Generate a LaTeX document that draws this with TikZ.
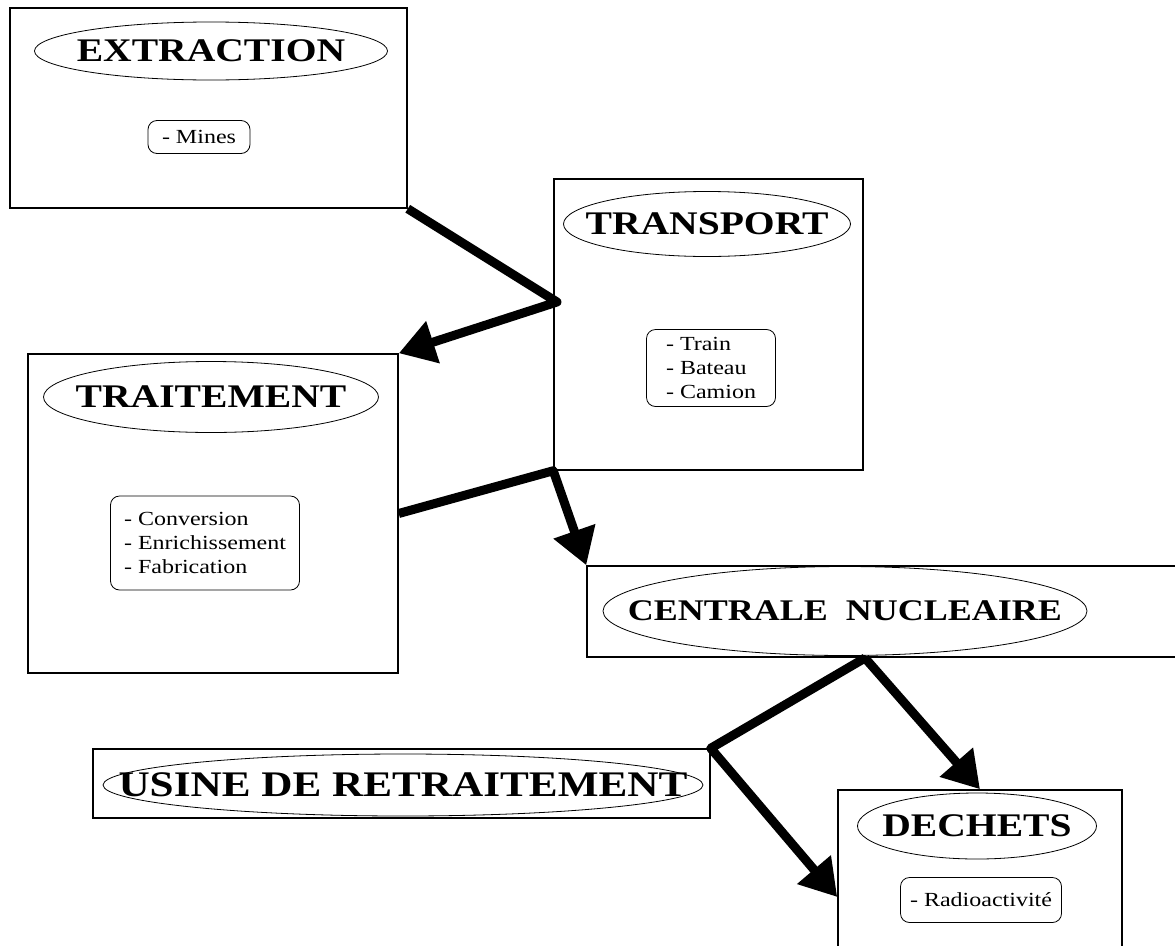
\documentclass[tikz,border=0pt]{standalone}
\usepackage{fontspec}
\setmainfont{Liberation Serif}[FakeStretch=1.2]
\usetikzlibrary{arrows.meta,shapes.geometric}

\tikzset{
  stage/.style={draw,line width=1.5pt,inner sep=0pt},
  title/.style={ellipse,draw,line width=0.8pt,inner sep=0pt,font=\fontsize{33}{33}\selectfont\bfseries},
  items/.style={draw,rounded corners=9pt,line width=0.8pt,align=left,inner sep=2pt,font=\fontsize{20}{24}\selectfont},
  flow/.style={line width=9pt,line join=round,-{Triangle[length=36pt,width=42pt]}}
}

\begin{document}
\begin{tikzpicture}[x=1pt,y=-1pt]
\useasboundingbox (0,0) rectangle (1175,945);
\foreach \x/\y/\w/\h/\n in {208.5/108/397/200/extraction, 708.5/324.5/309/291/transport, 213/513.5/370/319/traitement, 886/611.5/598/91/centrale, 401.5/783.5/617/69/usine, 980/897/284/214/dechets}
  \node[stage,minimum width=\w pt,minimum height=\h pt] (\n) at (\x,\y) {};
\foreach \x/\y/\w/\h/\n/\t in {211/51/353/58/textraction/EXTRACTION, 707/224/287/65/ttransport/TRANSPORT, 211/397/335/71/ttraitement/TRAITEMENT, 845/611/484/89/tcentrale/{\fontsize{30}{30}\selectfont CENTRALE\ \ NUCLEAIRE}, 403/785/600/62/tusine/{\fontsize{36}{36}\selectfont USINE DE RETRAITEMENT}, 977/826/239/66/tdechets/DECHETS}
  \node[title,minimum width=\w pt,minimum height=\h pt] (\n) at (\x,\y) {\makebox[0pt]{\t}};
\foreach \x/\y/\w/\h/\n/\t in {199/137/102/33/lextraction/{- Mines}, 711/368/129/77/ltransport/{- Train\\- Bateau\\- Camion}, 205/543/189/94/ltraitement/{- Conversion\\- Enrichissement\\- Fabrication}, 981/900/161/45/ldechets/{- Radioactivité}}
  \node[items,minimum width=\w pt,minimum height=\h pt] (\n) at (\x,\y) {\t};
\coordinate (j1) at (557,302);
\coordinate (j3) at (865,658);
\draw[flow] (extraction.south east) -- (j1) -- (traitement.north east);
\draw[flow] (traitement.east) -- (transport.south west) -- (centrale.north west);
\draw[flow] (j3) -- (dechets.north);
\draw[flow] (j3) -- (usine.north east) -- (dechets.west);
\end{tikzpicture}
\end{document}
